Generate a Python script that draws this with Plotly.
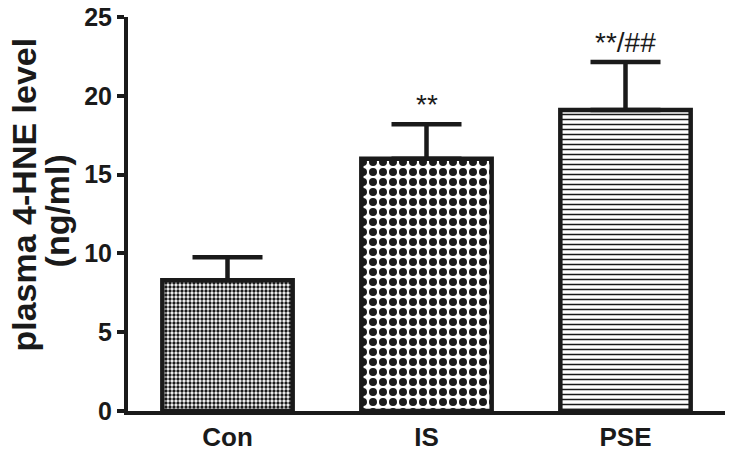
import plotly.graph_objects as go

categories = ["Con", "IS", "PSE"]
means = [8.3, 16.0, 19.1]
errors_up = [1.45, 2.2, 3.05]
sig_labels = ["", "**", "**/##"]
y_ticks = [0, 5, 10, 15, 20, 25]
y_title_lines = ["plasma 4-HNE level", "(ng/ml)"]

FONT = "Liberation Sans, Arial, sans-serif"
INK = "#1a1a1a"

patterns = [
    dict(shape=".", size=4, solidity=0.55, fgcolor=INK, bgcolor="white", fgopacity=1),
    dict(shape=".", size=10, solidity=0.5, fgcolor=INK, bgcolor="white", fgopacity=1),
    dict(shape="-", size=5, solidity=0.3, fgcolor=INK, bgcolor="white", fgopacity=1),
]

fig = go.Figure()
for i, cat in enumerate(categories):
    fig.add_trace(go.Bar(
        x=[cat], y=[means[i]],
        width=0.655,
        marker=dict(color="white", line=dict(color=INK, width=4.5),
                    pattern=patterns[i]),
        error_y=dict(type="data", symmetric=False, array=[errors_up[i]],
                     arrayminus=[0], color=INK, thickness=4.5, width=35),
        showlegend=False,
    ))

for i, cat in enumerate(categories):
    if sig_labels[i]:
        fig.add_annotation(x=cat, y=means[i] + errors_up[i], text=sig_labels[i],
                           showarrow=False, yanchor="bottom", yshift=2,
                           font=dict(family=FONT, size=28, color=INK))

# two-line y-axis title, one annotation per line (tighter line spacing)
title_pos = [(-0.1742, 0.5495), (-0.1196, 0.508)]
for line, (xp, yp) in zip(y_title_lines, title_pos):
    fig.add_annotation(xref="paper", yref="paper", x=xp, y=yp,
                       text=line, textangle=-90,
                       showarrow=False, xanchor="center", yanchor="middle",
                       font=dict(family=FONT, size=34, color=INK, weight="bold"))

tick_font = dict(family=FONT, size=26, color=INK, weight="bold")

fig.update_layout(
    width=733, height=455,
    margin=dict(l=128, r=8, t=17, b=44),
    plot_bgcolor="white", paper_bgcolor="white",
    font=dict(family=FONT, color=INK),
    xaxis=dict(range=[-0.5, 2.5], showline=True, linecolor=INK, linewidth=4,
               ticks="", showgrid=False, zeroline=False, automargin=False,
               tickfont=tick_font),
    yaxis=dict(range=[0, 25], tickvals=y_ticks, showline=True, linecolor=INK,
               linewidth=4, ticks="outside", ticklen=7, tickwidth=4,
               tickcolor=INK, showgrid=False, zeroline=False, automargin=False,
               ticklabeloverflow="allow",
               tickfont=dict(family=FONT, size=25, color=INK, weight="bold")),
)

fig.write_html("out.html", config={"displayModeBar": False},
               post_script="document.body.style.margin='0';")
